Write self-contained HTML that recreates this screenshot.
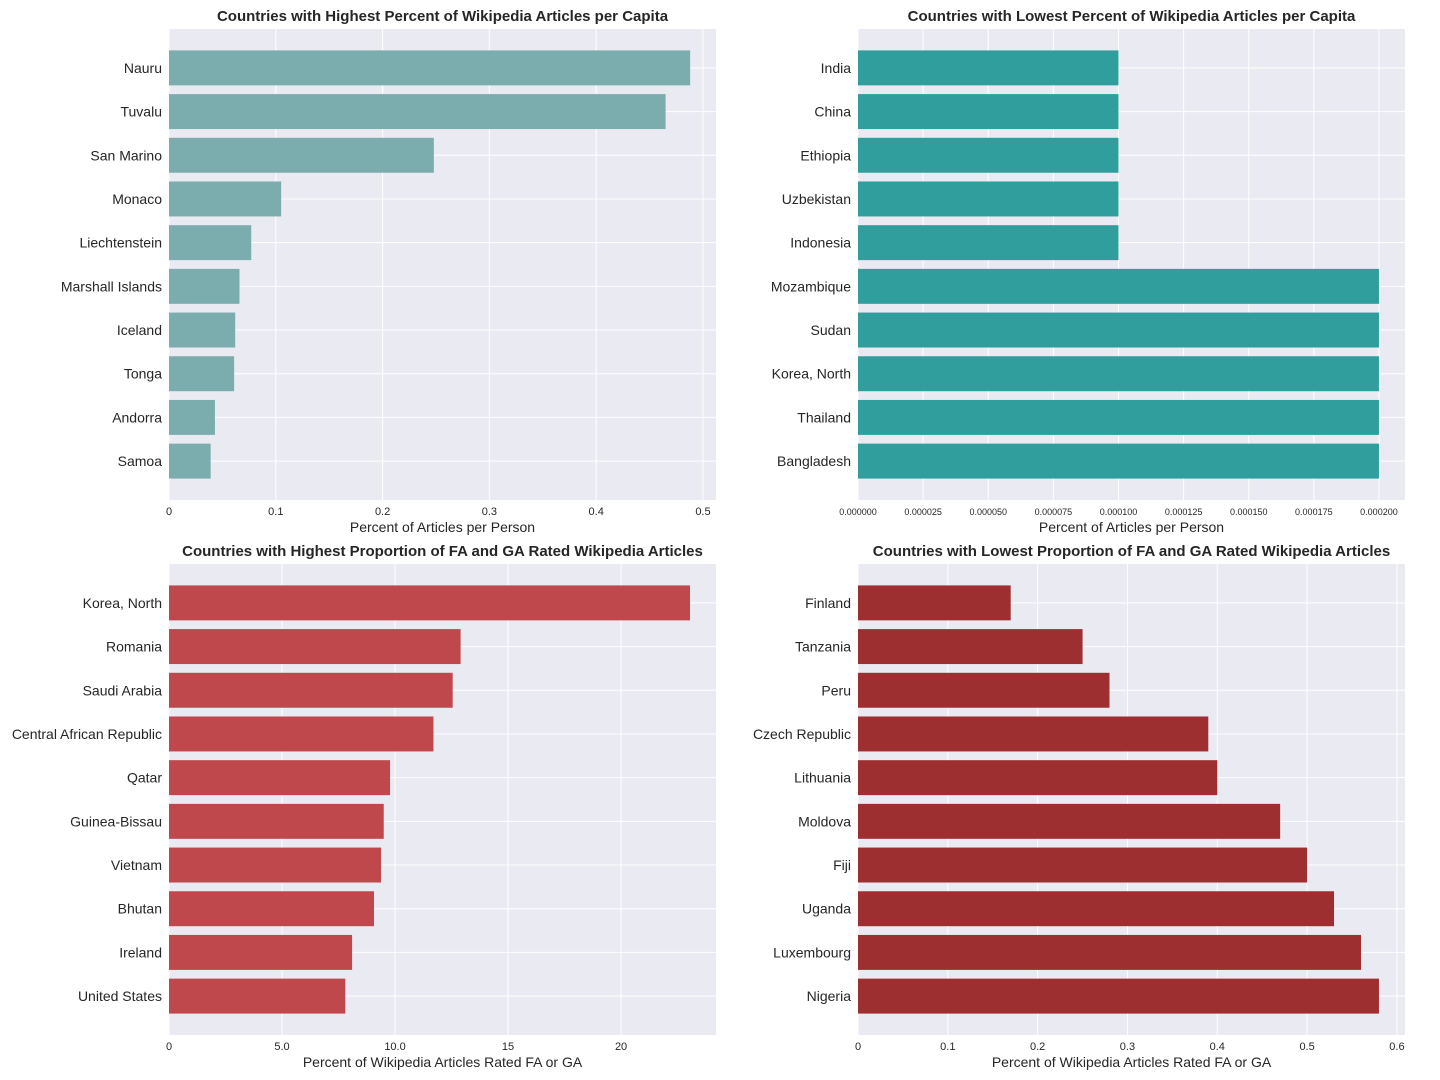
<!DOCTYPE html>
<html><head><meta charset="utf-8">
<style>
body{margin:0;background:#fff;}
svg{display:block;font-family:"Liberation Sans",Arial,sans-serif;}
</style></head>
<body>
<svg id="c" width="1440" height="1080" xmlns="http://www.w3.org/2000/svg"></svg>
<script>
const cats1=["Nauru","Tuvalu","San Marino","Monaco","Liechtenstein","Marshall Islands","Iceland","Tonga","Andorra","Samoa"];
const vals1=[0.488,0.465,0.248,0.105,0.077,0.066,0.062,0.061,0.043,0.039];
const ticks1=[0,0.1,0.2,0.3,0.4,0.5];
const tickLabels1=["0","0.1","0.2","0.3","0.4","0.5"];

const cats2=["India","China","Ethiopia","Uzbekistan","Indonesia","Mozambique","Sudan","Korea, North","Thailand","Bangladesh"];
const vals2=[0.0001,0.0001,0.0001,0.0001,0.0001,0.0002,0.0002,0.0002,0.0002,0.0002];
const ticks2=[0,0.000025,0.00005,0.000075,0.0001,0.000125,0.00015,0.000175,0.0002];
const tickLabels2=["0.000000","0.000025","0.000050","0.000075","0.000100","0.000125","0.000150","0.000175","0.000200"];

const cats3=["Korea, North","Romania","Saudi Arabia","Central African Republic","Qatar","Guinea-Bissau","Vietnam","Bhutan","Ireland","United States"];
const vals3=[23.05,12.9,12.55,11.7,9.78,9.5,9.38,9.07,8.1,7.8];
const ticks3=[0,5,10,15,20];
const tickLabels3=["0","5.0","10.0","15","20"];

const cats4=["Finland","Tanzania","Peru","Czech Republic","Lithuania","Moldova","Fiji","Uganda","Luxembourg","Nigeria"];
const vals4=[0.17,0.25,0.28,0.39,0.40,0.47,0.50,0.53,0.56,0.58];
const ticks4=[0,0.1,0.2,0.3,0.4,0.5,0.6];
const tickLabels4=["0","0.1","0.2","0.3","0.4","0.5","0.6"];

const NS="http://www.w3.org/2000/svg";
const svg=document.getElementById('c');
function mk(tag,attrs,parent){const e=document.createElementNS(NS,tag);for(const k in attrs)e.setAttribute(k,attrs[k]);(parent||svg).appendChild(e);return e;}

function panel(o){
  const g=mk('g',{});
  
  
  const L=o.x0,R=o.x1,T=o.y0,B=o.y1;
  const bg=mk('rect',{x:L,y:T,width:R-L,height:B-T,fill:'#eaeaf2'},g);
  
  
  const xs=v=>L+(v/o.xmax)*(R-L);
  const n=o.cats.length;
  const ymin=-0.89,ymax=n-1+0.89;
  const ys=i=>T+((i-ymin)/(ymax-ymin))*(B-T);
  o.ticks.forEach((t,k)=>{
    const gl=mk('line',{x1:xs(t),x2:xs(t),y1:T,y2:B,stroke:'#fff','stroke-width':1},g);
    
    
    const tl=mk('text',{x:xs(t),y:B+15,'text-anchor':'middle','font-size':o.tickSize,fill:'#262626'},g);
    tl.textContent=o.tickLabels[k];
    
    
  });
  o.cats.forEach((c,i)=>{
    const gl=mk('line',{x1:L,x2:R,y1:ys(i),y2:ys(i),stroke:'#fff','stroke-width':1},g);
    
    
  });
  const h=(ys(1)-ys(0))*0.8;
  o.cats.forEach((c,i)=>{
    const b=mk('rect',{x:L,y:ys(i)-h/2,width:xs(o.vals[i])-L,height:h,fill:o.color},g);
    
    
    const t=mk('text',{x:L-7,y:ys(i)+5,'text-anchor':'end','font-size':14,fill:'#262626'},g);
    t.textContent=c;
    
    
  });
  const tt=mk('text',{x:(L+R)/2,y:T-8,'text-anchor':'middle','font-size':15,'font-weight':'bold',fill:'#262626'},g);
  tt.textContent=o.title;
  
  
  const xl=mk('text',{x:(L+R)/2,y:B+32,'text-anchor':'middle','font-size':14,fill:'#262626'},g);
  xl.textContent=o.xlabel;
  
  
}

panel({name:'panel-highest-per-capita',x0:169,x1:716,y0:29,y1:500,xmax:0.5122,cats:cats1,vals:vals1,ticks:ticks1,tickLabels:tickLabels1,tickSize:11,color:'#7badaf',title:'Countries with Highest Percent of Wikipedia Articles per Capita',xlabel:'Percent of Articles per Person'});
panel({name:'panel-lowest-per-capita',x0:858,x1:1405,y0:29,y1:500,xmax:0.00021,cats:cats2,vals:vals2,ticks:ticks2,tickLabels:tickLabels2,tickSize:9,color:'#2f9e9d',title:'Countries with Lowest Percent of Wikipedia Articles per Capita',xlabel:'Percent of Articles per Person'});
panel({name:'panel-highest-fa-ga',x0:169,x1:716,y0:564,y1:1035,xmax:24.2,cats:cats3,vals:vals3,ticks:ticks3,tickLabels:tickLabels3,tickSize:11,color:'#bf484c',title:'Countries with Highest Proportion of FA and GA Rated Wikipedia Articles',xlabel:'Percent of Wikipedia Articles Rated FA or GA'});
panel({name:'panel-lowest-fa-ga',x0:858,x1:1405,y0:564,y1:1035,xmax:0.609,cats:cats4,vals:vals4,ticks:ticks4,tickLabels:tickLabels4,tickSize:11,color:'#9e2f30',title:'Countries with Lowest Proportion of FA and GA Rated Wikipedia Articles',xlabel:'Percent of Wikipedia Articles Rated FA or GA'});
</script>
</body></html>
